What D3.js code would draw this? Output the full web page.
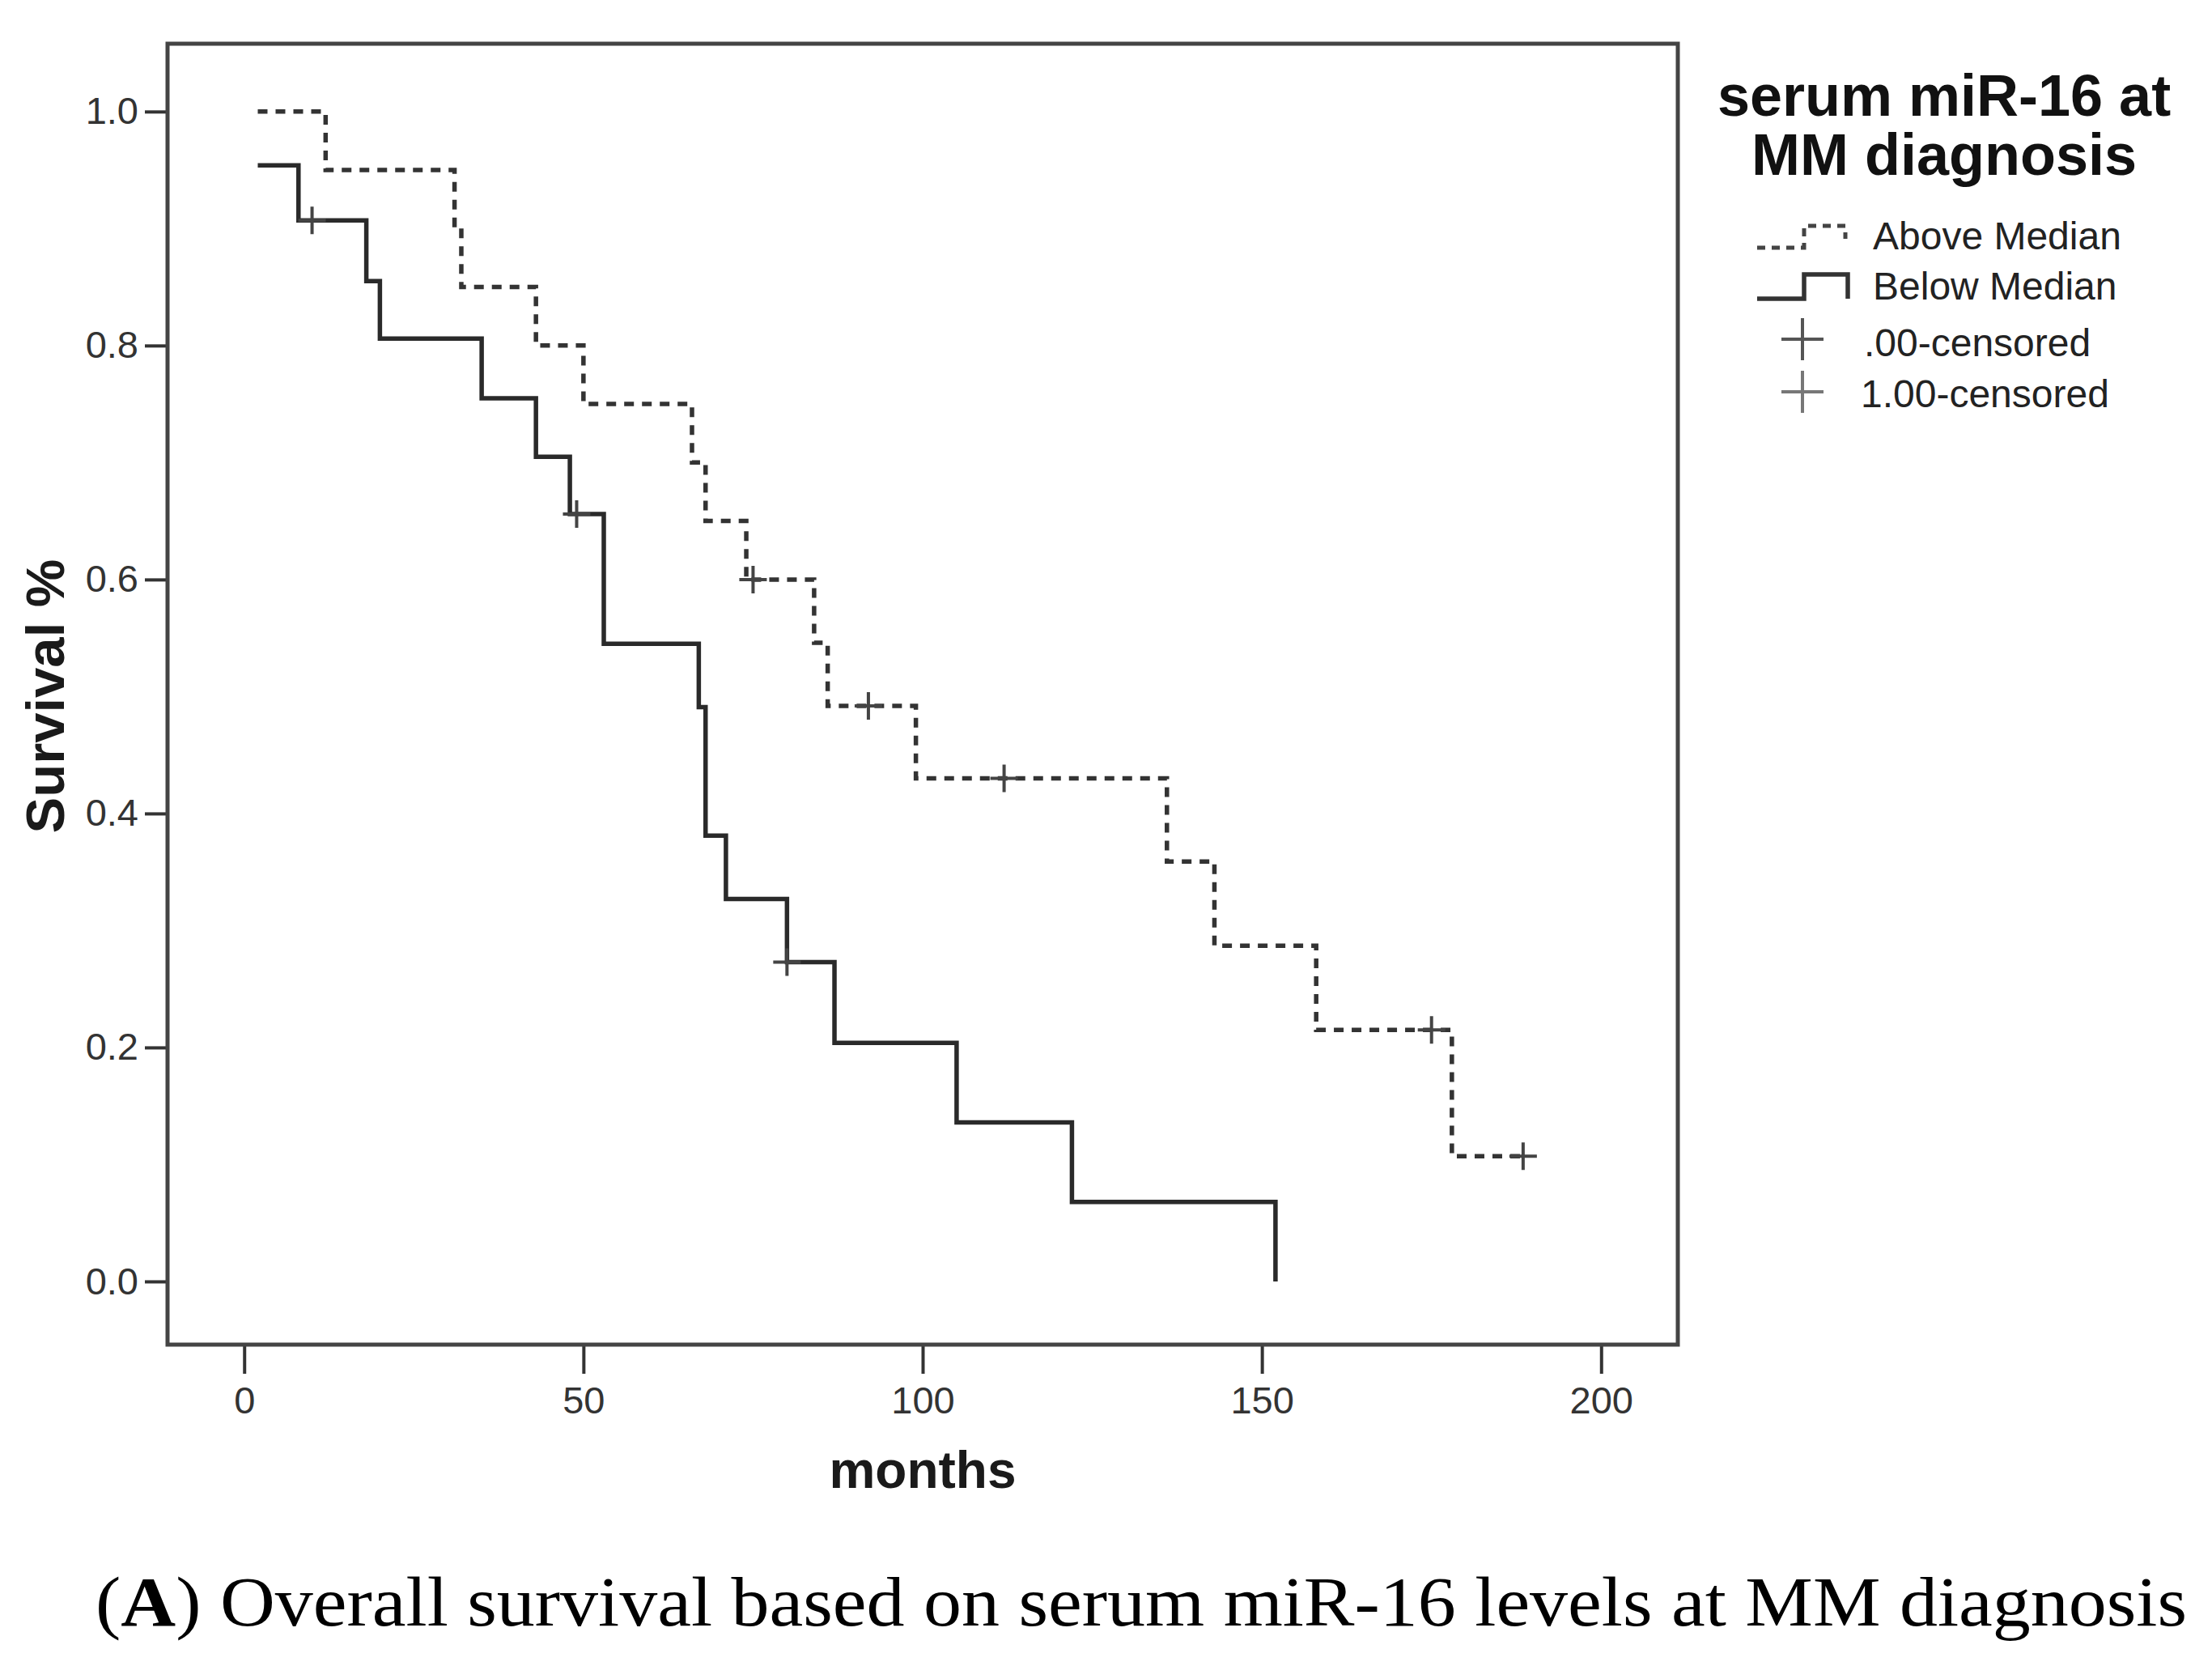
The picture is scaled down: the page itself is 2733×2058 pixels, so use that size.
<!DOCTYPE html>
<html>
<head>
<meta charset="utf-8">
<script src="https://cdn.jsdelivr.net/npm/d3@7"></script>
<style>
    body { margin: 0; background: #fff; }
    text { font-family: "Liberation Sans", Arial, sans-serif; }
</style>
</head>
<body>
<script>
// Kaplan-Meier steps
var aboveTime = [2, 12, 31, 32, 43, 50, 66, 68, 74, 84, 86, 99, 136, 143, 158, 178, 188.5];
var aboveSurv = [1.0, 0.95, 0.90, 0.85, 0.80, 0.75, 0.70, 0.65, 0.60, 0.546, 0.492, 0.43, 0.359, 0.287, 0.215, 0.107, 0.107];
var aboveCensorTime = [75, 92, 112, 175, 188.5];
var aboveCensorSurv = [0.60, 0.492, 0.43, 0.215, 0.107];

var belowTime = [2, 8, 18, 20, 35, 43, 48, 53, 67, 68, 71, 80, 87, 105, 122, 152];
var belowSurv = [0.954, 0.907, 0.855, 0.806, 0.755, 0.705, 0.656, 0.545, 0.491, 0.381, 0.327, 0.273, 0.204, 0.136, 0.068, 0.0];
var belowCensorTime = [10, 49, 80];
var belowCensorSurv = [0.907, 0.656, 0.273];

var xTicks = [0, 50, 100, 150, 200];
var yTicks = [0.0, 0.2, 0.4, 0.6, 0.8, 1.0];
var legendTitle = ["serum miR-16 at", "MM diagnosis"];
var legendLabels = ["Above Median", "Below Median", ".00-censored", "1.00-censored"];

var W = 2733, H = 2058;
var plotL = 207, plotR = 2073, plotT = 54, plotB = 1661;

var svg = d3.select("body")
    .append("svg")
    .attr("width", W)
    .attr("height", H);

var x = d3.scaleLinear().domain([-11.3, 211.3]).range([plotL, plotR]);
var y = d3.scaleLinear().domain([-0.054, 1.058]).range([plotB, plotT]);

// axes
var yAxis = svg.append("g")
    .attr("transform", "translate(" + plotL + ",0)")
    .call(d3.axisLeft(y).tickValues(yTicks).tickFormat(d3.format(".1f")).tickSize(28).tickPadding(8));
var xAxis = svg.append("g")
    .attr("transform", "translate(0," + plotB + ")")
    .call(d3.axisBottom(x).tickValues(xTicks).tickSize(36).tickPadding(16));

[yAxis, xAxis].forEach(function (g) {
    g.select(".domain").remove();
    g.selectAll(".tick line").attr("stroke", "#333").attr("stroke-width", 4);
    g.selectAll(".tick text")
        .attr("fill", "#333")
        .style("font-size", "47px")
        .style("font-family", "'Liberation Sans', Arial, sans-serif");
});

svg.append("rect")
    .attr("x", plotL).attr("y", plotT)
    .attr("width", plotR - plotL).attr("height", plotB - plotT)
    .attr("fill", "none")
    .attr("stroke", "#444")
    .attr("stroke-width", 5);

var step = d3.line()
    .x(function (d) { return x(d[0]); })
    .y(function (d) { return y(d[1]); })
    .curve(d3.curveStepAfter);

svg.append("path")
    .datum(d3.zip(aboveTime, aboveSurv))
    .attr("d", step)
    .attr("fill", "none")
    .attr("stroke", "#333")
    .attr("stroke-width", 5.5)
    .attr("stroke-dasharray", "12,10");

svg.append("path")
    .datum(d3.zip(belowTime, belowSurv))
    .attr("d", step)
    .attr("fill", "none")
    .attr("stroke", "#2a2a2a")
    .attr("stroke-width", 5.5);

function plus(sel, half) {
    return sel.attr("d", "M" + (-half) + ",0H" + half + "M0," + (-half) + "V" + half);
}

var censor = d3.zip(aboveCensorTime, aboveCensorSurv).concat(d3.zip(belowCensorTime, belowCensorSurv));
svg.selectAll(".censor")
    .data(censor)
    .enter()
    .append("path")
    .attr("class", "censor")
    .attr("transform", function (d) { return "translate(" + x(d[0]) + "," + y(d[1]) + ")"; })
    .call(plus, 17)
    .attr("fill", "none")
    .attr("stroke", "#444")
    .attr("stroke-width", 4);

// axis titles
svg.append("text")
    .attr("x", (plotL + plotR) / 2)
    .attr("y", 1838)
    .attr("text-anchor", "middle")
    .style("font-size", "64px")
    .style("font-weight", "bold")
    .attr("fill", "#1a1a1a")
    .text("months");

svg.append("text")
    .attr("transform", "translate(79,860) rotate(-90)")
    .attr("text-anchor", "middle")
    .style("font-size", "67px")
    .style("font-weight", "bold")
    .attr("fill", "#1a1a1a")
    .text("Survival %");

// legend
var lg = svg.append("g").attr("transform", "translate(2171,0)");

lg.selectAll(".ltitle")
    .data(legendTitle)
    .enter()
    .append("text")
    .attr("x", 231)
    .attr("y", function (d, i) { return 143 + i * 73; })
    .attr("text-anchor", "middle")
    .style("font-size", "72px")
    .style("font-weight", "bold")
    .attr("fill", "#111")
    .text(function (d) { return d; });

var labelX = [143, 143, 132, 128];
var labelY = [308, 370, 440, 503];
lg.selectAll(".litem")
    .data(legendLabels)
    .enter()
    .append("text")
    .attr("x", function (d, i) { return labelX[i]; })
    .attr("y", function (d, i) { return labelY[i]; })
    .style("font-size", "48px")
    .attr("fill", "#222")
    .text(function (d) { return d; });

lg.append("path")
    .attr("d", "M0,306H58V279H109V295")
    .attr("fill", "none")
    .attr("stroke", "#444")
    .attr("stroke-width", 5)
    .attr("stroke-dasharray", "10,8");

lg.append("path")
    .attr("d", "M0,369H58V339H112V369")
    .attr("fill", "none")
    .attr("stroke", "#333")
    .attr("stroke-width", 5.5);

lg.append("path")
    .attr("transform", "translate(56,419)")
    .call(plus, 26)
    .attr("fill", "none")
    .attr("stroke", "#555")
    .attr("stroke-width", 4);

lg.append("path")
    .attr("transform", "translate(56,484)")
    .call(plus, 26)
    .attr("fill", "none")
    .attr("stroke", "#777")
    .attr("stroke-width", 4);

// caption
var cap = svg.append("text")
    .attr("x", 118)
    .attr("y", 2008)
    .attr("textLength", 2584)
    .attr("lengthAdjust", "spacingAndGlyphs")
    .style("font-family", "'Liberation Serif', 'DejaVu Serif', serif")
    .style("font-size", "86px")
    .attr("fill", "#000");
cap.append("tspan").text("(");
cap.append("tspan").style("font-weight", "bold").text("A");
cap.append("tspan").text(") Overall survival based on serum miR-16 levels at MM diagnosis");
</script>
</body>
</html>
